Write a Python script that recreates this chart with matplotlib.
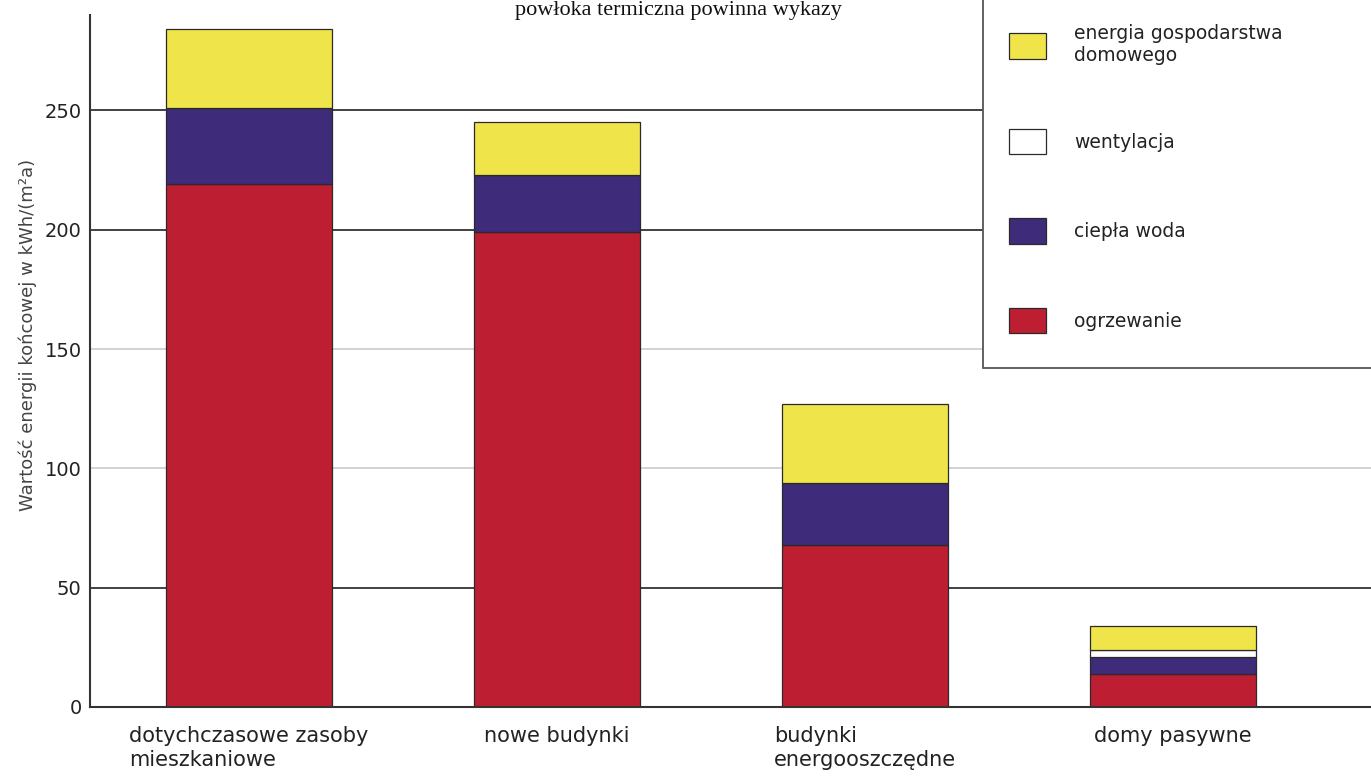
import matplotlib
matplotlib.use('Agg')
import matplotlib.pyplot as plt
from matplotlib.patches import Rectangle

# ---- data ----
categories = ['dotychczasowe zasoby\nmieszkaniowe', 'nowe budynki',
              'budynki\nenergooszczędne', 'domy pasywne']
ogrzewanie = [219, 199, 68, 14]
ciepla_woda = [32, 24, 26, 7]
wentylacja = [0, 0, 0, 3]
energia_gosp = [33, 22, 33, 10]
series_labels = ['ogrzewanie', 'ciepła woda', 'wentylacja',
                 'energia gospodarstwa\ndomowego']
yticks = [0, 50, 100, 150, 200, 250]
ylabel = 'Wartość energii końcowej w kWh/(m²a)'
top_text = 'powłoka termiczna powinna wykazy'

# ---- style ----
colors = ['#be1e32', '#3e2b7a', '#ffffff', '#efe54a']
grid_colors = {50: '#333333', 100: '#cfcfcf', 150: '#cfcfcf',
               200: '#333333', 250: '#333333'}
txt = '#222222'

plt.rcParams['font.family'] = ['DejaVu Sans']

W, H = 1371, 778
fig = plt.figure(figsize=(W / 100, H / 100), dpi=100)
ax = fig.add_axes([90 / W, 1 - 707 / H, (W - 90) / W, (707 - 15) / H])

x = list(range(len(categories)))
width = 0.54
stack = [ogrzewanie, ciepla_woda, wentylacja, energia_gosp]
bottom = [0] * len(categories)
containers = []
for vals, col, lab in zip(stack, colors, series_labels):
    c = ax.bar(x, vals, width, bottom=bottom, color=col, edgecolor='#2a2a2a',
               linewidth=0.9, label=lab, zorder=2)
    containers.append(c)
    bottom = [b + v for b, v in zip(bottom, vals)]

for t in yticks[1:]:
    ax.axhline(t, color=grid_colors[t], linewidth=1.3, zorder=0.5)

ax.set_xlim(-0.516, 3.643)
ax.set_ylim(0, 290)
ax.set_yticks(yticks)
ax.set_yticklabels([str(t) for t in yticks], fontsize=14, color=txt)
ax.set_xticks(x)
ax.set_xticklabels(categories, fontsize=15, color=txt, linespacing=1.25)
for lbl in ax.get_xticklabels():
    lbl.set_multialignment('left')
ax.tick_params(axis='both', length=0)
ax.tick_params(axis='y', pad=6)
ax.tick_params(axis='x', pad=14)

for s in ['top', 'right']:
    ax.spines[s].set_visible(False)
for s in ['left', 'bottom']:
    ax.spines[s].set_color('#333333')
    ax.spines[s].set_linewidth(1.5)

ax.set_ylabel(ylabel, fontsize=13, color='#444444', va='center')
ax.yaxis.set_label_coords(-62 / (W - 90), (707 - 335) / 692)

# legend box
box = Rectangle((983 / W, 1 - 368 / H), 0.4, 0.6, transform=fig.transFigure,
                facecolor='white', edgecolor='#555555', linewidth=1.3)
fig.add_artist(box)

handles = containers[::-1]
labels = series_labels[::-1]
leg_fs = 13.5
px = leg_fs * 100 / 72
fig.legend(handles, labels, loc='upper left',
           bbox_to_anchor=(1009 / W, 1 - 24 / H), bbox_transform=fig.transFigure,
           frameon=False, fontsize=leg_fs,
           borderpad=0, borderaxespad=0,
           handlelength=37 / px, handleheight=32 / px,
           handletextpad=28 / px, labelspacing=64 / px,
           labelcolor=txt)

fig.text(678 / W, 1 - 15 / H, top_text, family='Liberation Serif',
         fontsize=16, ha='center', va='baseline', color='#111111')

fig.savefig('out.png', dpi=100)
